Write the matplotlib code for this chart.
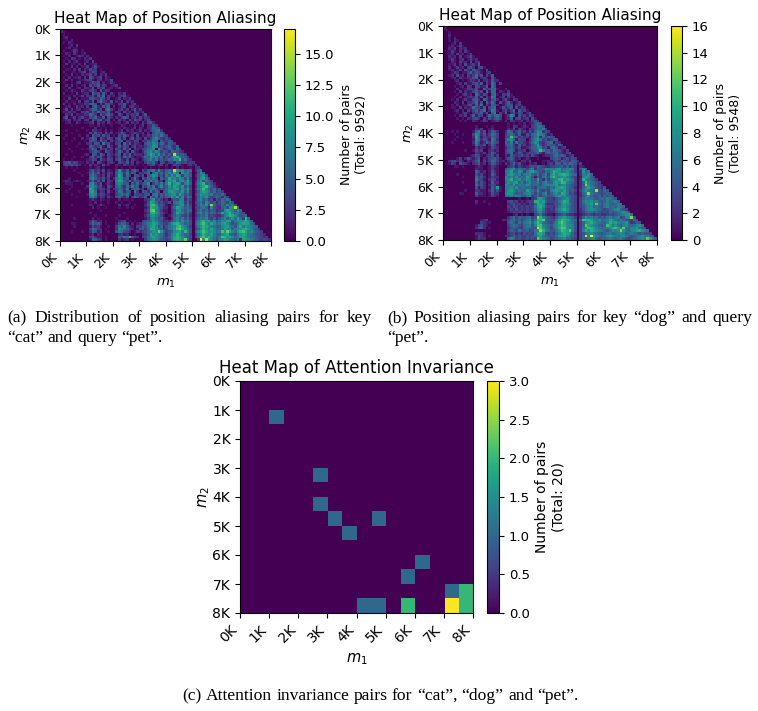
import matplotlib
matplotlib.use('Agg')
import matplotlib.pyplot as plt
import numpy as np

FIG_W, FIG_H = 758, 711

# counts per 100x100 bucket, lower triangle only, one base-18 digit per cell
cat_rows = """
2
21
010
0120
00102
010210
0001203
00120110
010013201
0021031012
0102001320 2
0010320102 13
0102013001 204
0030110203 0112
0100302011 30241
0011020302 142301
0200110134 0253012
0010301021 24130213
0102011203 053124021
0030200112 3410230214
0100102301 1253402013 1
0020301012 0423513201 23
0103001203 2150324012 013
0010210031 1342051320 0000
0200103012 2063415203 10213
0011020130 3241526031 202341
0103002011 1453264130 0130213
0020110302 3150473215 02140312
0301020113 2564031542 103251024
0012003120 3046215360 2013402311
0140302201 1365240573 1024130251 3
0213120032 4152634251 0320413042 13
0031402113 2643052463 1042031324 025
0250130241 1436215042 0213540231 4132
0123021302 3052461340 2031204153 30241
0012003101 1240312031 0120130212 031452
0000100000 0110201001 0002101020 1302253
0000000010 0002010100 0010210130 21023654
0010001000 1032110201 0013021201 302135672
0000100000 0415230413 0125301242 1302046563
0010000100 2053415230 1042531304 0213256474 3
0100010020 1364052143 0351402513 2041368532 42
0000100001 0453162403 1246032143 0325476053 354
0010000100 2315407241 0340625132 1046587364 2543
0000001000 0542361052 0152430241 2135698243 46325
0001000010 1364052413 0431526032 1346780952 354263
0000100000 0245310532 0263140521 0257968635 4265432
0010000001 2054163042 1350426132 2147a85946 352f6453
0000010010 0362451032 0241635201 1365978462 4369b7543
0100100000 1243052143 0352140321 0246857353 46587c4632
0345243110 2130421023 1043251302 1035462043 1342653423 3
0243534201 0312104120 0210321201 0102341230 2014321023 13
0010101000 0101201000 0101001010 0010100100 1010201001 023
0000010000 0352314021 0394251463 0425673842 564f978576 0257
0000000100 1463502132 0586372540 3246058463 685a709684 01486
0000000010 0574213041 04a7263054 2405697352 7596a83765 025794
0001000000 0685324130 2698450372 0536475063 5a78697483 0158a63
0121012100 1362415032 07a9536254 3064857230 698a5796a4 02694753
0011100010 0794250131 0687450536 2458036473 7b69a84795 0379b5642
0000100000 2896341042 0574263745 0536472584 597a869473 0268ac8531
0001000001 0a85243130 2465370456 2304675243 6879a58694 0379c86463 4
0010000100 09a6132041 0376254073 0542736405 59a8769583 0258a97463 53
0000100000 1897243120 0357462043 3245067354 67895a7463 0369886745 463
0000001000 0685132031 0463250364 2350746253 5697a48375 0258795346 5263
0000000000 0131021010 0020110100 0023794531 2035478253 0268563415 36574
0000000000 0102010010 0101001000 0014a96342 2416798362 0357486352 465374
0000100000 0210131000 0030120010 0025bc8453 1024689473 0258694e53 3648574
0000000000 0020100100 0010010100 0013ba9542 2036a97564 0346752843 256489f6
0000000000 0000010000 0000000000 0024cd8631 1034896475 0257463542 348a97586
0000000000 0100000000 0000100000 0013ab9742 1025a87463 0368574653 5a79b86754
0000000000 0001000100 0010000000 0024897531 0135764352 0246573432 2479ba8645 6
0000010000 0020100000 0100010000 0013786452 1026857463 0357684352 4685796a63 b6
0000000000 0253120100 0023401010 0345697542 3246859674 0479b8a685 687a957899 b85
0000110000 0364530100 0146530201 24578a9653 358ab97564 058ac97a86 79a864579a a964
0000010000 0142310010 0365842103 35479a8462 4678bc9753 0479ba8765 589a7648a7 98765
0000000000 0365320100 0287653201 4536ba8653 3679cda864 0358b97a76 67a895789a b97543
0000100010 0254130010 0476432013 2346798d95 34589a7b74 058aca8986 7c9da869bc a786543
0000000000 0130210000 0023120010 0235a89764 2479b97563 0368b98a75 589a65479a 97654432
0000000000 0342110100 005476b532 03469a8764 357aba8654 047ac9b875 7cb9a8679a 876654323
0000000000 0165320100 0031230100 0036798654 347aba9d63 003h9fa864 78a976572a 9876543432
"""

dog_rows = """
2
11
001
0020
00102
001021
0001203
00120131
002130212
0013102031
0012031201 3
0021203012 41
0013102301 312
0002103120 4023
0011302041 23150
0020131203 420341
0012013042 1532104
0001320113 52431023
0012041203 136240315
0001203112 2450231042
0000120101 3214023152 2
0000012031 1342503164 03
0000101203 2043125064 000
0000020113 3241052356 1002
0000103021 1352406165 02103
0000010231 2063142056 103241
0000102012 3251403176 0130312
0001020131 1452063145 20241032
0000210302 2361405263 041352013
0001020113 4152603154 2013540231
0001103021 2643150356 0142350413 2
0000120203 1352460276 1024136052 31
0000010231 0243514057 0315024143 024
0000102130 2514302635 6401385042 3142
0000010102 1342031424 5301250341 23041
0000001010 0210132012 3102032113 021342
0000000000 0000000000 0000101010 2012464
0000000000 0010001010 0000103201 21034664
0000000000 0021300120 0000214032 103246573
0001010000 0157240254 2002651352 3142587243
0000100100 0386241365 3003564251 1425697631 2
0000010000 0295132254 30034b6524 2314682635 43
0000100000 0186243175 2004785143 3025796342 354
0001000100 0274125364 3005472634 2135873245 6132
0000000000 0163240253 1004563152 3124694235 44253
0000000000 0031210143 2002453241 1235587341 564123
0000000010 0142300231 2003564132 302456b745 3654213
0000000000 0032130253 1003461243 1243463145 45632134
0000000000 1243102341 3002153234 2314210122 356454123
0000013024 2135021345 3102453120 1210010000 3454134243
0023423102 1246031365 3120243102 2130000112 1342543254 2
0013204321 0235120254 2103135241 1021200102 3155254654 13
0000110100 0012100132 1000234132 1234354322 3344535243 021
0000000000 0021100131 1004678465 5367254587 7689567873 0475
0000000000 0053120142 1006795587 3689754365 7a98678653 02856
0000010000 0042310153 1005897674 6785463573 8a79aa9765 027685
0000000100 0063420132 2008676856 5974153674 9b87897643 0179853
0000000000 0074310243 10078a6785 6875494263 678ab89763 02a86543
0000000100 0052420152 2006878957 4685574685 5898ba7653 025b76543
0000000000 0063420243 1008769576 6875564677 7896786543 024d865432
0000000000 0041320153 9107786856 6564365654 6589a96542 0258976432 4
0000000010 0032110252 4106897565 5976484353 7898796453 0369765e43 54
0000001100 0052210142 2007886454 6785364683 5786a96342 0257d65543 454
0000000000 0031110132 1006675765 4673463564 4679786543 0246854453 5454
0000000000 0000000000 0000000010 0102389743 3245678543 0357665456 57654
0000000000 0020010000 0000342312 1233aa8953 33468a9543 0368786754 575675
0000000000 0010000100 0000234231 21325a9832 2345898643 0357896c64 6754567
0000000000 0000000000 0000324323 232369a843 3246897543 0346785654 67565765
0000000000 0000000000 0000232423 2323589632 32579a8543 0246787654 345678543
0000000000 0000000000 0000123232 2322478532 2246787543 0235664543 4354567874
0000000000 0000000000 0000001201 0100346321 1023453221 0123432332 2343456789 6
0000000000 0000000000 0000246354 45634da754 3247897653 0258675645 4675673478 d4
0000000000 0000123000 0021356453 56746aac54 4369ba9865 04baa97685 6798657543 354
0000000000 0000321100 0000465364 67858b9654 357aca8764 03589a8765 57a8976785 2354
0000000000 0013421000 0000356543 56747bb765 4679ba8874 035c987654 5b96865786 56786
0000000000 0024520100 0000245432 56544fb865 357acb8774 0368ba9765 678ab97c65 879654
0000000000 0000000000 0000354364 453467da76 4468ba9c74 037a8a9876 546878d865 789a876
0000000000 0022210000 0000234232 434369a843 43579a9853 0346787654 5675678756 76545443
0000000000 0013210100 0002235343 3434589654 44699a8654 035f7g9765 6898767865 456787654
0000000000 0013220000 0000576343 34343c9765 3456785643 0354678545 5676567543 456787c965
"""

# attention invariance counts on the coarser 500x500 grid
invariance_rows = [2, 6, 8, 9, 10, 9, 12, 13, 14, 14, 15, 15, 15, 15, 15]
invariance_cols = [2, 5, 5, 6, 7, 9, 12, 11, 14, 15, 15, 14, 11, 8, 9]
invariance_counts = [1, 1, 1, 1, 1, 1, 1, 1, 1, 2, 2, 3, 2, 1, 1]

tick_labels = ['0K', '1K', '2K', '3K', '4K', '5K', '6K', '7K', '8K']


def parse_rows(text, size=80):
    grid = np.zeros((size, size))
    for i, line in enumerate(text.strip().splitlines()):
        for j, ch in enumerate(line.replace(' ', '')):
            grid[i, j] = int(ch, 18)
    return grid


def px_axes(fig, left, top, right, bottom):
    return fig.add_axes([left / FIG_W, 1 - bottom / FIG_H,
                         (right - left) / FIG_W, (bottom - top) / FIG_H])


def heat_map(fig, grid, box, cbar_box, title, ticks=None, text_size=9, title_size=11,
             label_size=9, title_pad=4.5):
    ax = px_axes(fig, *box)
    size = grid.shape[0]
    im = ax.imshow(grid, cmap='viridis', aspect='auto', interpolation='nearest',
                   extent=(0, size, size, 0))
    pos = np.linspace(0, size, 9)
    ax.set_xticks(pos)
    ax.set_yticks(pos)
    ax.set_xticklabels(tick_labels, rotation=45, ha='right', fontsize=text_size)
    ax.set_yticklabels(tick_labels, fontsize=text_size)
    ax.set_xlabel('$m_1$', fontsize=text_size + 0.5)
    ax.set_ylabel('$m_2$', fontsize=text_size + 0.5, labelpad=0.5)
    ax.set_title(title, fontsize=title_size, pad=title_pad)

    cax = px_axes(fig, *cbar_box)
    cbar = fig.colorbar(im, cax=cax, ticks=ticks)
    cbar.ax.tick_params(labelsize=9.5)
    cbar.set_label('Number of pairs\n(Total: %d)' % grid.sum(), fontsize=label_size)
    return ax


def caption(fig, x, y, text, width=None):
    # width spreads the words out so the line is set justified
    words = text.split(' ')
    items = [fig.text(0, 1 - y / FIG_H, w, family='Liberation Serif', fontsize=12.6,
                      color='black', va='baseline', ha='left') for w in words]
    renderer = fig.canvas.get_renderer()
    widths = [t.get_window_extent(renderer).width for t in items]
    space = 4.4
    if width is not None:
        space = (width - sum(widths)) / (len(words) - 1)
    cur = x
    for item, w in zip(items, widths):
        item.set_x(cur / FIG_W)
        cur += w + space


fig = plt.figure(figsize=(FIG_W / 100, FIG_H / 100), dpi=100)

cat_grid = parse_rows(cat_rows)
dog_grid = parse_rows(dog_rows)
inv_grid = np.zeros((16, 16))
for r, c, n in zip(invariance_rows, invariance_cols, invariance_counts):
    inv_grid[r, c] = n

heat_map(fig, cat_grid, (60, 29, 271, 241), (284, 29, 295, 241),
         'Heat Map of Position Aliasing', ticks=np.arange(0, 16, 2.5))
heat_map(fig, dog_grid, (443, 26, 657, 240), (671, 26, 682, 240),
         'Heat Map of Position Aliasing', ticks=np.arange(0, 17, 2))
heat_map(fig, inv_grid, (240, 381, 473, 613), (487, 381, 499, 613),
         'Heat Map of Attention Invariance', ticks=np.arange(0, 3.5, 0.5),
         text_size=10, title_size=12, label_size=10, title_pad=6)

caption(fig, 7, 322, '(a) Distribution of position aliasing pairs for key', width=365)
caption(fig, 7, 342, '\u201ccat\u201d and query \u201cpet\u201d.')
caption(fig, 387, 322, '(b) Position aliasing pairs for key \u201cdog\u201d and query', width=365)
caption(fig, 387, 342, '\u201cpet\u201d.')
caption(fig, 182, 700, '(c) Attention invariance pairs for \u201ccat\u201d, \u201cdog\u201d and \u201cpet\u201d.', width=397)

fig.savefig('out.png', dpi=100)
